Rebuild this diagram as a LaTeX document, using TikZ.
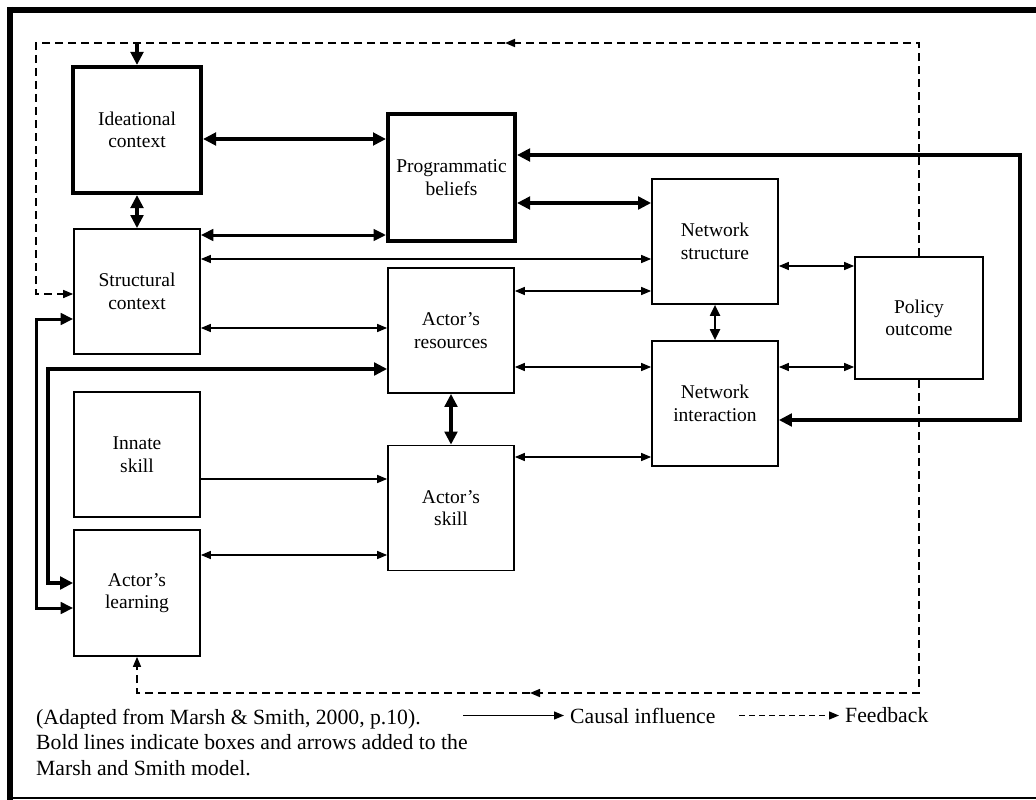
\documentclass[tikz,border=0pt]{standalone}
\usepackage{fontspec}
\setmainfont{Liberation Serif}
\usetikzlibrary{arrows.meta}
\begin{document}
\begin{tikzpicture}[x=1pt,y=-1pt,
  tipS/.tip={Triangle[length=10pt,width=8pt]},
  tipM/.tip={Triangle[length=11pt,width=10pt]},
  tipL/.tip={Triangle[length=12.5pt,width=11.5pt]},
  tipXL/.tip={Triangle[length=13pt,width=12.5pt]},
  box/.style={draw, line width=1.7pt, minimum width=126pt, minimum height=125pt,
    align=center, inner sep=0pt, font=\fontsize{19.5pt}{22.6pt}\selectfont},
  boldbox/.style={box, line width=4pt},
  thinar/.style={line width=1.3pt, tipS-tipS},
  medar/.style={line width=2pt, tipM-tipM},
  boldar/.style={line width=3pt, tipL-tipL},
  heavyar/.style={line width=4pt, tipXL-tipXL},
  fb/.style={line width=1.5pt, dash pattern=on 8pt off 5pt},
  lg/.style={font=\fontsize{21.7pt}{25.5pt}\selectfont, inner sep=0pt}
]
\fill[white] (0,0) rectangle (1036,800);
\useasboundingbox (0,0) rectangle (1036,800);
% frame
\draw[line width=6pt] (7,10) -- (1036,10);
\draw[line width=6pt] (10,7) -- (10,800);
\draw[line width=1.5pt] (7,798) -- (1036,798);

% boxes
\node[boldbox, minimum width=128pt, minimum height=126pt] (ideat) at (137,130) {Ideational\\context};
\node[boldbox, minimum width=127pt, minimum height=127pt] (prog) at (451.5,177.5) {Programmatic\\beliefs};
\node[box] (struct) at (137,291.5) {Structural\\context};
\node[box] (res) at (451,330.5) {Actor’s\\resources};
\node[box] (ns) at (715,241.5) {Network\\structure};
\node[box] (ni) at (715,403.5) {Network\\interaction};
\node[box, minimum width=128pt, minimum height=122pt] (pol) at (919,318) {Policy\\outcome};
\node[box] (innate) at (137,454.5) {Innate\\skill};
\node[box] (skill) at (451,508) {Actor’s\\skill};
\node[box, minimum height=126pt] (learn) at (137,593) {Actor’s\\learning};

% helper coordinates
\coordinate (rc) at (1020,155);
\coordinate (ol) at (36,319);
\coordinate (il) at (48,369);
\coordinate (fbtop) at (505,43);
\coordinate (fbtl) at (36,43);
\coordinate (fbbot) at (530,693);

% horizontal connectors
\draw[heavyar] ([yshift=-9pt]ideat.east) -- ([yshift=-9pt]ideat.east -| prog.west);
\draw[boldar] ([yshift=56.5pt]struct.east) -- ([yshift=56.5pt]struct.east -| prog.west);
\draw[thinar] ([yshift=32.5pt]struct.east) -- ([yshift=32.5pt]struct.east -| ns.west);
\draw[thinar] ([yshift=-36.5pt]struct.east) -- ([yshift=-36.5pt]struct.east -| res.west);
\draw[heavyar] ([yshift=-25.5pt]prog.east) -- ([yshift=-25.5pt]prog.east -| ns.west);
\draw[thinar] ([yshift=39.5pt]res.east) -- ([yshift=39.5pt]res.east -| ns.west);
\draw[thinar] ([yshift=-24.5pt]ns.east) -- ([yshift=-24.5pt]ns.east -| pol.west);
\draw[thinar] ([yshift=-36.5pt]res.east) -- ([yshift=-36.5pt]res.east -| ni.west);
\draw[thinar] ([yshift=36.5pt]ni.east) -- ([yshift=36.5pt]ni.east -| pol.west);
\draw[thinar] ([yshift=51pt]skill.east) -- ([yshift=51pt]skill.east -| ni.west);
\draw[line width=1.3pt, -tipS] ([yshift=-24.5pt]innate.east) -- ([yshift=-24.5pt]innate.east -| skill.west);
\draw[thinar] ([yshift=38pt]learn.east) -- ([yshift=38pt]learn.east -| skill.west);

% vertical connectors
\draw[heavyar] (ideat.south) -- (ideat.south |- struct.north);
\draw[medar] (ns.south) -- (ns.south |- ni.north);
\draw[heavyar] (res.south) -- (res.south |- skill.north);

% loops
\draw[line width=3.5pt, tipXL-tipXL] ([yshift=22.5pt]prog.east) -- (rc) |- ([yshift=-16.5pt]ni.east);
\draw[boldar] ([yshift=-27.5pt]struct.west) -- (ol) |- ([yshift=-15pt]learn.west);
\draw[heavyar] ([yshift=-38.5pt]res.west) -- (il) |- ([yshift=10pt]learn.west);

% feedback
\draw[fb, -tipS] (pol.north) |- (fbtop);
\draw[fb, -tipS] (fbtop) -- (fbtl) |- ([yshift=-2.5pt]struct.west);
\draw[line width=4pt, -tipXL] (ideat.north |- fbtl) -- (ideat.north);
\draw[fb, -tipS] (pol.south) |- (fbbot);
\draw[fb, -tipS] (fbbot) -| (learn.south);

% legend
\node[lg, anchor=north west, align=left] (note) at (36,709)
  {(Adapted from Marsh \& Smith, 2000, p.10).\\Bold lines indicate boxes and arrows added to the\\Marsh and Smith model.};
\node[lg, anchor=west] (causal) at (570,715.5) {Causal influence};
\node[lg, anchor=west] (fbk) at (845,715.5) {Feedback};
\draw[line width=1.3pt, -tipS] ([xshift=-107pt]causal.west) -- ([xshift=-6pt]causal.west);
\draw[line width=1.3pt, dash pattern=on 6pt off 4pt, -tipS] ([xshift=-106pt]fbk.west) -- ([xshift=-6pt]fbk.west);
\end{tikzpicture}
\end{document}
